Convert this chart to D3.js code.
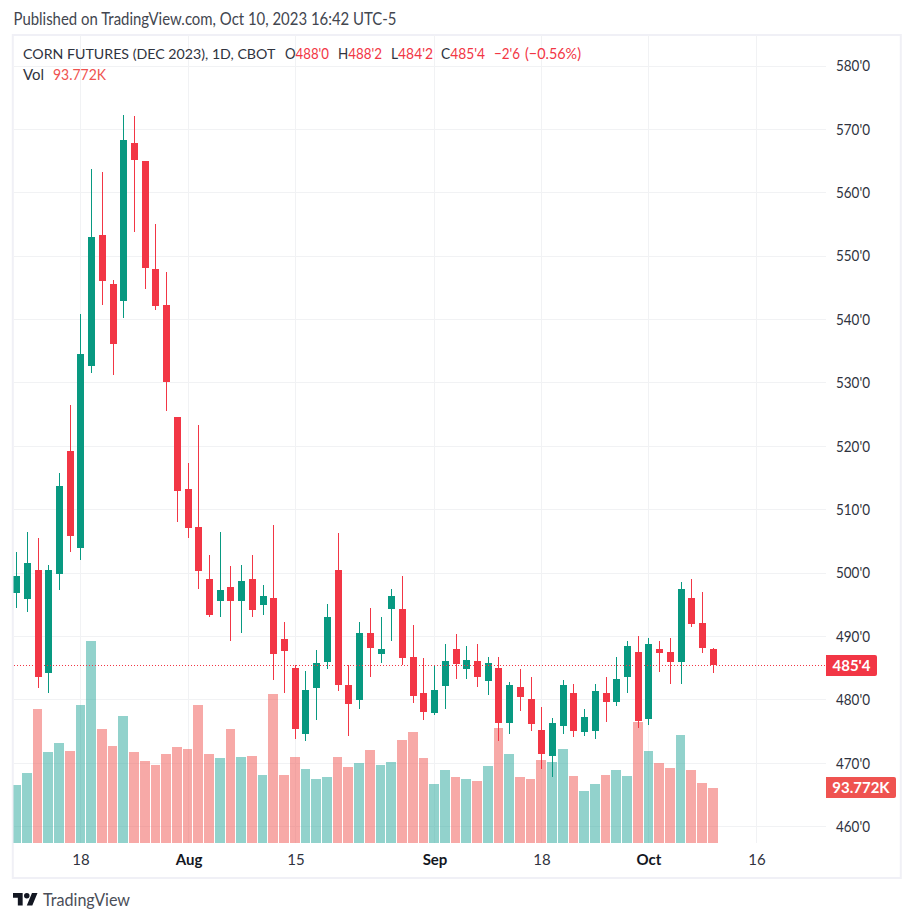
<!DOCTYPE html>
<html>
<head>
<meta charset="utf-8">
<script src="https://cdn.jsdelivr.net/npm/d3@7/dist/d3.min.js"></script>
<style>
html,body{margin:0;padding:0;background:#fff;}
svg{display:block;}
text{font-family:"Lato",sans-serif;}
</style>
</head>
<body>
<svg id="c" width="914" height="922"></svg>
<script>
const opens = [496.86,495.91,500.48,484.24,499.85,519.25,503.95,532.66,553.32,545.59,542.91,567.83,565.00,547.96,542.28,524.62,513.26,507.27,499.06,495.59,497.80,495.59,499.06,494.96,496.07,489.60,485.03,474.62,481.87,485.97,500.48,482.34,479.98,490.55,487.23,494.33,494.33,486.76,481.08,477.93,482.19,488.02,484.87,486.13,482.98,485.03,476.35,482.03,480.14,475.25,471.15,475.88,481.08,474.93,475.09,481.08,479.66,483.61,487.55,476.98,488.02,487.55,485.97,496.07,492.12,488.00];
const highs = [503.32,506.48,505.53,501.27,515.78,526.51,540.86,563.73,563.26,546.23,572.25,572.09,565.00,555.06,547.49,524.62,517.36,523.35,502.85,506.48,501.11,501.27,502.85,498.12,507.58,492.28,485.50,484.55,487.87,495.12,506.32,485.50,492.28,494.49,493.07,497.49,499.54,491.81,486.60,485.34,488.81,490.39,488.50,488.81,486.76,486.76,482.82,484.87,483.61,478.87,477.14,483.13,482.50,478.56,482.50,483.61,486.76,489.29,490.07,489.76,489.29,489.76,498.59,499.06,497.01,488.25];
const lows = [494.49,493.86,481.87,481.08,497.33,503.32,502.06,531.56,542.28,531.24,540.23,553.80,544.81,541.49,525.56,508.05,505.53,497.49,493.07,493.07,489.29,490.55,493.07,493.39,483.13,481.08,473.83,473.51,476.82,484.87,481.40,474.30,478.56,483.61,485.82,489.29,485.50,479.51,476.82,477.61,478.56,483.29,483.29,482.03,480.77,473.51,474.62,478.24,475.09,469.09,467.83,474.62,474.14,474.30,473.83,476.51,479.03,481.08,475.56,476.04,484.40,482.50,482.50,491.49,487.39,484.25];
const closes = [499.54,501.59,483.61,500.48,513.73,505.85,534.55,553.01,546.07,536.13,568.31,565.15,548.12,542.12,530.14,512.94,507.11,500.33,493.39,497.33,495.59,498.75,494.17,496.38,487.23,487.71,475.40,481.56,485.82,493.07,482.34,479.35,490.55,488.18,488.02,496.38,486.60,480.61,478.09,481.56,486.13,485.66,486.29,483.61,485.82,476.35,482.34,480.45,476.19,471.46,476.35,482.34,475.09,477.30,481.40,479.66,483.29,488.50,476.67,488.81,487.39,485.97,497.49,491.97,488.18,485.50];
const volumes = [98,120,228,155,170,156,235,344,194,165,216,155,139,132,151,163,160,235,151,144,194,146,148,115,253,115,146,126,109,112,146,129,136,158,133,138,176,189,145,101,124,113,109,106,131,196,152,113,109,142,138,160,114,89,101,116,124,114,206,157,136,128,184,124,102,93.772];
const priceTicks = [460,470,480,490,500,510,520,530,540,550,560,570,580];
const priceTickLabels = ["460'0","470'0","480'0","490'0","500'0","510'0","520'0","530'0","540'0","550'0","560'0","570'0","580'0"];
const timeTickIndex = [6,16,26,39,49,59,69];
const timeTickLabels = ["18","Aug","15","Sep","18","Oct","16"];
const boldTimeLabels = ["Aug","Sep","Oct"];
const lastPriceLabel = "485'4";
const lastVolumeLabel = "93.772K";

const UP="#089981", DOWN="#F23645", VUP="#26a69a", VDOWN="#ef5350", GRID="#f1f2f4", BORDER="#f0f0f6", TXT="#131722", LBL="#2f333e";
const FONT='"Lato",sans-serif';
const L=13.5,R=826,T=35,B=843;

const svg=d3.select("#c");
const x=d3.scaleLinear().domain([0,69]).range([16.1,755.64]);
const y=d3.scaleLinear().domain([460,580]).range([826.7,66]);
const yv=d3.scaleLinear().domain([0,344]).range([B,641]);
const px=i=>Math.round(x(i));

svg.append("defs").append("clipPath").attr("id","plot").append("rect")
  .attr("x",L).attr("y",T).attr("width",R-L).attr("height",B-T);

// header
const small=(s,xx,yy,fill,w,size)=>{
  const t=svg.append("text").attr("x",xx).attr("y",yy).attr("fill",fill).attr("font-size",size||15).text(s);
  if(w) t.attr("textLength",w).attr("lengthAdjust","spacingAndGlyphs");
  return t;
};
small("Published on TradingView.com, Oct 10, 2023 16:42 UTC-5",13.5,24.5,"#42464f",383,17);

// frame
svg.append("rect").attr("x",12.8).attr("y",35).attr("width",888).attr("height",843)
  .attr("fill","#fff").attr("stroke",BORDER).attr("stroke-width",2);

// grid
const grid=svg.append("g").attr("shape-rendering","crispEdges");
grid.selectAll("line.h").data(priceTicks).join("line").attr("class","h")
  .attr("x1",L).attr("x2",R).attr("y1",d=>y(d)).attr("y2",d=>y(d)).attr("stroke",GRID);
grid.selectAll("line.v").data(timeTickIndex).join("line").attr("class","v")
  .attr("x1",d=>px(d)+.5).attr("x2",d=>px(d)+.5).attr("y1",T).attr("y2",B).attr("stroke",GRID);

const plot=svg.append("g").attr("clip-path","url(#plot)").attr("shape-rendering","crispEdges");
const idx=d3.range(closes.length);
const isUp=i=>closes[i]>=opens[i];

// volume
plot.append("g").selectAll("rect").data(idx).join("rect")
  .attr("x",i=>Math.ceil(x(i-.5)))
  .attr("width",i=>Math.floor(x(i+.5))-Math.ceil(x(i-.5)))
  .attr("y",i=>yv(volumes[i]))
  .attr("height",i=>B-yv(volumes[i]))
  .attr("fill",i=>isUp(i)?VUP:VDOWN).attr("fill-opacity",.5);

// last price dotted line
svg.append("line").attr("x1",L).attr("x2",R).attr("y1",y(closes[closes.length-1])+.5).attr("y2",y(closes[closes.length-1])+.5)
  .attr("stroke",DOWN).attr("stroke-dasharray","1 2").attr("shape-rendering","crispEdges");

// candles
plot.append("g").selectAll("rect").data(idx).join("rect")
  .attr("x",i=>px(i)).attr("width",1)
  .attr("y",i=>y(highs[i])).attr("height",i=>y(lows[i])-y(highs[i]))
  .attr("fill",i=>isUp(i)?UP:DOWN);
plot.append("g").selectAll("rect").data(idx).join("rect")
  .attr("x",i=>px(i)-3).attr("width",7)
  .attr("y",i=>y(Math.max(opens[i],closes[i])))
  .attr("height",i=>Math.abs(y(opens[i])-y(closes[i])))
  .attr("fill",i=>isUp(i)?UP:DOWN);

// axes
const yAxis=d3.axisRight(y).tickValues(priceTicks).tickSize(0).tickPadding(10)
  .tickFormat(d=>priceTickLabels[priceTicks.indexOf(d)]);
const ya=svg.append("g").attr("transform",`translate(${R},0)`).call(yAxis);
ya.select(".domain").remove();
ya.selectAll("text").attr("font-size",15).attr("fill",LBL).attr("font-family",FONT)
  .attr("textLength",34).attr("lengthAdjust","spacingAndGlyphs");

const xAxis=d3.axisBottom(x).tickValues(timeTickIndex).tickSize(0).tickPadding(11)
  .tickFormat(d=>timeTickLabels[timeTickIndex.indexOf(d)]);
const xa=svg.append("g").attr("transform",`translate(0,${B})`).call(xAxis);
xa.select(".domain").remove();
const isBold=d=>boldTimeLabels.includes(timeTickLabels[timeTickIndex.indexOf(d)]);
xa.selectAll("text").attr("font-size",15).attr("font-family",FONT)
  .attr("x",d=>px(d)+.5-x(d))
  .attr("fill",d=>isBold(d)?TXT:LBL)
  .attr("font-weight",d=>isBold(d)?"700":"400");

// legend
small("CORN FUTURES (DEC 2023), 1D, CBOT",23,58.5,LBL,null,14.2);
const ohlcPairs=[["O","488'0",285,44],["H","488'2",338,44],["L","484'2",391,42],["C","485'4",441,44]];
ohlcPairs.forEach(d=>{
  const t=svg.append("text").attr("x",d[2]).attr("y",58.5).attr("font-size",15)
    .attr("textLength",d[3]).attr("lengthAdjust","spacingAndGlyphs");
  t.append("tspan").attr("fill",LBL).text(d[0]);
  t.append("tspan").attr("fill",DOWN).text(d[1]);
});
small("−2'6",494,58.5,DOWN,26);
small("(−0.56%)",525,58.5,DOWN,56);
small("Vol",23,80,LBL,21);
small(lastVolumeLabel,53,80,VDOWN,53);

// badges
const badge=(label,cy,w,fill)=>{
  const h=21,r=2,t=Math.round(cy-h/2);
  const p=d3.path();
  p.moveTo(R,t);p.lineTo(R+w-r,t);p.arcTo(R+w,t,R+w,t+r,r);p.lineTo(R+w,t+h-r);p.arcTo(R+w,t+h,R+w-r,t+h,r);p.lineTo(R,t+h);p.closePath();
  svg.append("path").attr("d",p.toString()).attr("fill",fill);
  svg.append("text").attr("x",R+w/2).attr("y",t+16).attr("text-anchor","middle").attr("fill","#fff")
    .attr("font-size",15).attr("font-weight",700).text(label);
};
badge(lastPriceLabel,y(closes[closes.length-1])+.5,51,DOWN);
badge(lastVolumeLabel,yv(volumes[volumes.length-1]),70,VDOWN);

// TradingView logo
const logo=svg.append("g").attr("transform","translate(13,890.2) scale(.69)").attr("fill","#131722");
logo.append("path").attr("d","M14 22H7V11H0V4h14v18zM28 22h-8l7.5-18h8L28 22z");
logo.append("circle").attr("cx",20).attr("cy",8).attr("r",4);
svg.append("text").attr("x",43).attr("y",906).attr("font-size",17).attr("fill","#4a4e58")
  .attr("textLength",87).attr("lengthAdjust","spacingAndGlyphs").text("TradingView");
</script>
</body>
</html>
